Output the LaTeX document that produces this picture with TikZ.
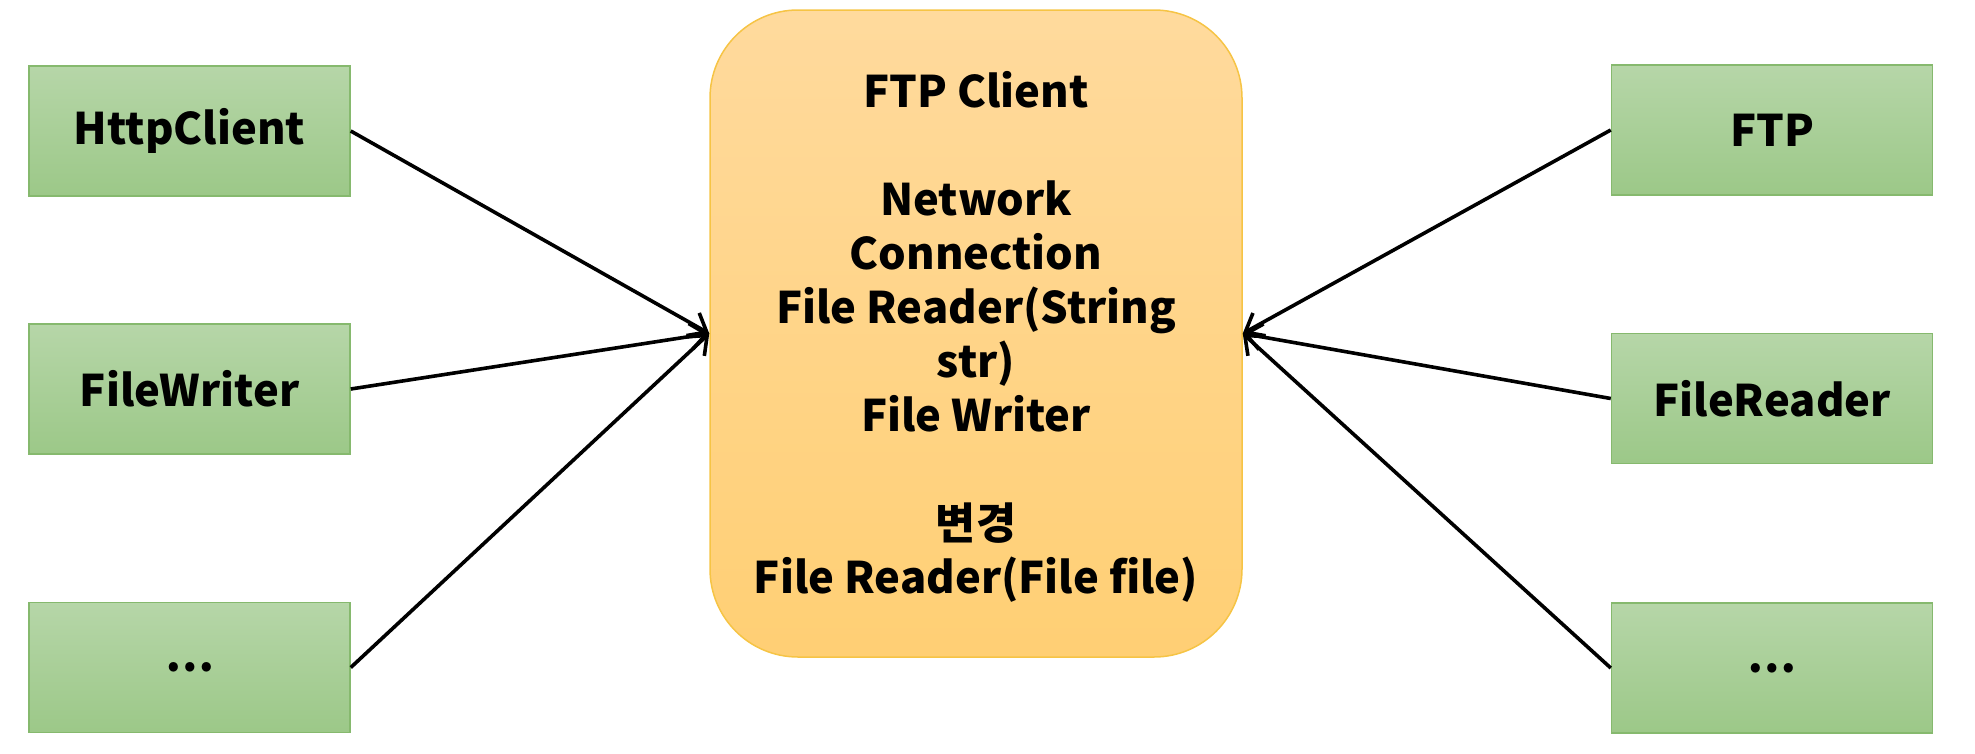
\documentclass[tikz,border=0pt]{standalone}
\usepackage{fontspec}
\setmainfont{Noto Sans CJK KR}
\usetikzlibrary{arrows.meta,shadings}
\tikzset{
  gbox/.style={rectangle, draw=gstroke, line width=1.5pt, top color=gtop, bottom color=gbot,
    minimum width=321pt, minimum height=130pt, inner sep=0pt,
    font={\fontsize{43.5}{54}\selectfont\bfseries}, text=black},
  cbox/.style={rectangle, rounded corners=88pt, draw=cstroke, line width=1.5pt, top color=ctop, bottom color=cbot,
    minimum width=532pt, minimum height=647pt, inner sep=0pt},
  ctext/.style={inner sep=0pt, align=center,
    font={\fontsize{43.5}{54}\selectfont\bfseries}, text=black},
  conn/.style={line width=3.6pt, draw=black, -{Straight Barb[length=16pt,width=26pt,line width=3.6pt]}},
}
\definecolor{gtop}{HTML}{B6D6A8}
\definecolor{gbot}{HTML}{9CC888}
\definecolor{gstroke}{HTML}{86B96E}
\definecolor{ctop}{HTML}{FFDA9D}
\definecolor{cbot}{HTML}{FFCF74}
\definecolor{cstroke}{HTML}{F6C445}
\begin{document}
\begin{tikzpicture}[x=1pt,y=-1pt]
\useasboundingbox (0,0) rectangle (1975,753);
\node[cbox] (c) at (976,333.5) {};
\node[ctext] (ct) at (976,337) {FTP Client\\ \mbox{}\\Network\\Connection\\File Reader(String\\str)\\File Writer\\ \mbox{}\\변경\\File Reader(File file)};
\node[gbox] (l1) at (189.5,131) {\raisebox{-2pt}{HttpClient}};
\node[gbox] (l2) at (189.5,389) {\raisebox{-2pt}{FileWriter}};
\node[gbox] (l3) at (189.5,667.5) {…};
\node[gbox] (r1) at (1772,130) {\raisebox{-2pt}{FTP}};
\node[gbox] (r2) at (1772,398.5) {\raisebox{-2pt}{FileReader}};
\node[gbox] (r3) at (1772,668) {…};
\draw[conn] (l1.east) -- (c.west);
\draw[conn] (l2.east) -- (c.west);
\draw[conn] (l3.east) -- (c.west);
\draw[conn] (r1.west) -- (c.east);
\draw[conn] (r2.west) -- (c.east);
\draw[conn] (r3.west) -- (c.east);
\end{tikzpicture}
\end{document}
